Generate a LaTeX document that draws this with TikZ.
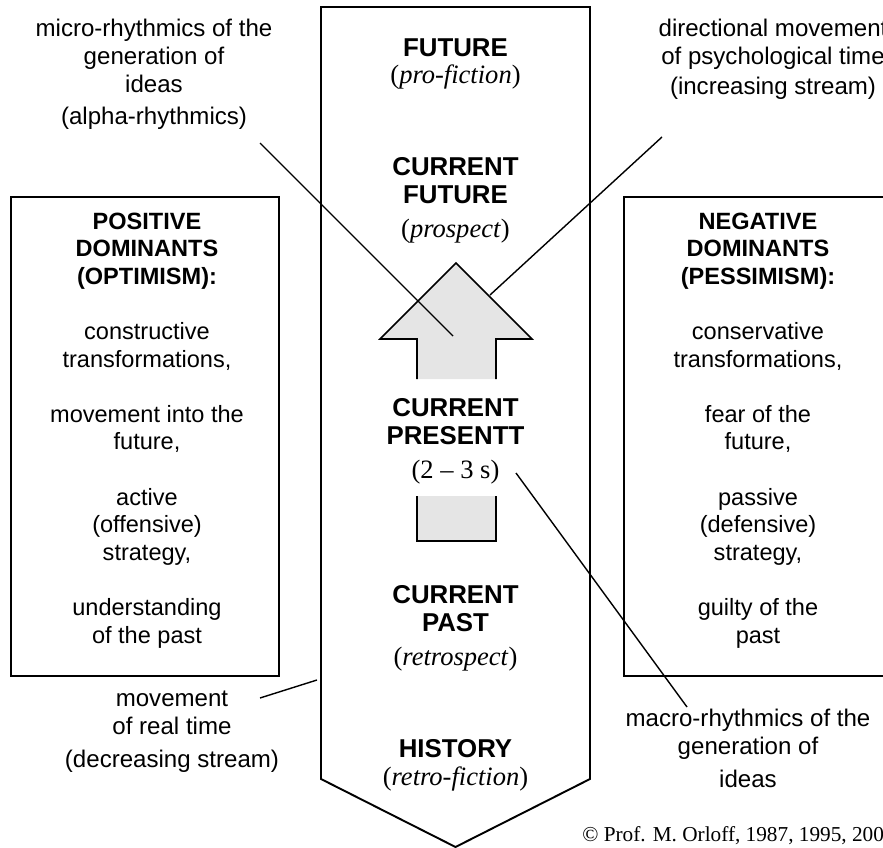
\documentclass[tikz,border=0pt]{standalone}
\usepackage{fontspec}
\setmainfont{Liberation Serif}
\setsansfont{Liberation Sans}
% italic Times-like subtitle under a zone name
\newcommand{\era}[1]{{\rmfamily\mdseries\fontsize{15.1}{15.9}\selectfont(\textit{#1})}}

\begin{document}
\begin{tikzpicture}[x=0.02cm, y=-0.02cm,
    zone/.style={align=center, anchor=base, font=\sffamily\bfseries\fontsize{14.7}{15.9}\selectfont},
    panel/.style={draw, line width=1.1pt},
    paneltext/.style={align=center, anchor=base, font=\sffamily\fontsize{13.4}{15.7}\selectfont},
    note/.style={align=center, anchor=base, font=\sffamily\fontsize{13.7}{15.9}\selectfont},
    lead/.style={line width=0.8pt},
    flow/.style={fill=black!10, line width=0.9pt}
]
    \clip (0,0) rectangle (883,848);

    % Time stream column (points down)
    \draw[line width=1.1pt] (321,7) -- (590,7) -- (590,779) -- (455.5,847) -- (321,779) -- cycle;

    % Grey upward arrow, broken by the present
    \filldraw[flow] (417,379) -- (417,339) -- (380,339) -- (456,263) -- (532,339) -- (496,339) -- (496,379);
    \filldraw[flow] (417,496) -- (417,541) -- (496,541) -- (496,496);

    % Zones of time (anchored on the last line)
    \node[zone] (future) at (455.5,84) {FUTURE\\ \era{pro-fiction}};
    \node[zone] (curfuture) at (455.5,237) {CURRENT\\ FUTURE\\[3pt] \era{prospect}};
    \node[zone] (present) at (455.5,478) {CURRENT\\ PRESENTT\\[3pt] {\rmfamily\mdseries\fontsize{15.1}{15.9}\selectfont(2 -- 3 s)}};
    \node[zone] (curpast) at (455.5,665) {CURRENT\\ PAST\\[3pt] \era{retrospect}};
    \node[zone] (history) at (455.5,785) {HISTORY\\ \era{retro-fiction}};

    % Dominant panels
    \draw[panel] (11,197) rectangle (279,676);
    \draw[panel] (624,197) rectangle (892,676);
    \node[paneltext] (positive) at (147,643) {\textbf{POSITIVE}\\ \textbf{DOMINANTS}\\ \textbf{(OPTIMISM):}\\[15.7pt]
        constructive\\ transformations,\\[15.7pt]
        movement into the\\ future,\\[15.7pt]
        active\\ (offensive)\\ strategy,\\[15.7pt]
        understanding\\ of the past};
    \node[paneltext] (negative) at (758,643) {\textbf{NEGATIVE}\\ \textbf{DOMINANTS}\\ \textbf{(PESSIMISM):}\\[15.7pt]
        conservative\\ transformations,\\[15.7pt]
        fear of the\\ future,\\[15.7pt]
        passive\\ (defensive)\\ strategy,\\[15.7pt]
        guilty of the\\ past};

    % Side notes
    \node[note] (micro) at (154,125) {micro-rhythmics of the\\ generation of\\ ideas\\[2.5pt] (alpha-rhythmics)};
    \node[note] (direction) at (773,95) {directional movement\\ of psychological time\\[1.5pt] (increasing stream)};
    \node[note] (realtime) at (172,767) {movement\\ of real time\\[2.5pt] (decreasing stream)};
    \node[note] (macro) at (748,787) {macro-rhythmics of the\\ generation of\\[2.5pt] ideas};

    % Leader lines
    \coordinate (microfrom) at (260,143);
    \coordinate (microto) at (453,336);
    \coordinate (dirfrom) at (662,137);
    \coordinate (dirto) at (490,295);
    \coordinate (realfrom) at (260,698);
    \coordinate (realto) at (317,680);
    \coordinate (macrofrom) at (516,473);
    \coordinate (macroto) at (687,707);
    \draw[lead] (microfrom) -- (microto);
    \draw[lead] (dirfrom) -- (dirto);
    \draw[lead] (realfrom) -- (realto);
    \draw[lead] (macrofrom) -- (macroto);

    \node[anchor=base west, inner sep=0pt, font=\rmfamily\fontsize{12.1}{14}\selectfont] (credit) at (582,841) {\textcopyright{} Prof. M. Orloff, 1987, 1995, 200};
\end{tikzpicture}
\end{document}
